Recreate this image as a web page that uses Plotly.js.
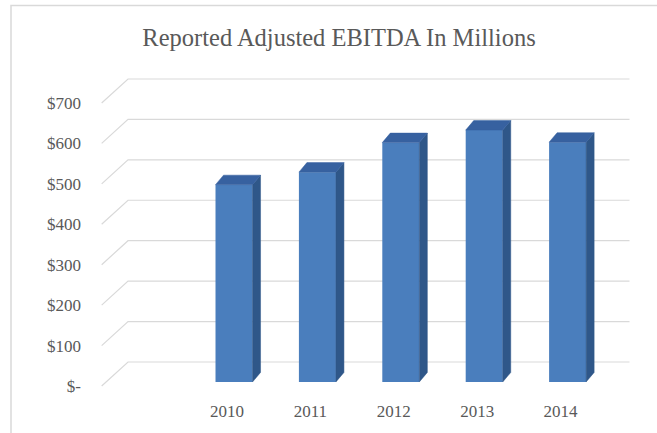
<!DOCTYPE html>
<html>
<head>
<meta charset="utf-8">
<script src="https://cdn.plot.ly/plotly-3.0.1.min.js"></script>
<style>
  html, body { margin: 0; padding: 0; background: #ffffff; }
  #chart { width: 657px; height: 433px; }
</style>
</head>
<body>
<div id="chart"></div>
<script>
// ---- data ----
const categories = ['2010', '2011', '2012', '2013', '2014'];
const ebitda = [488, 519, 592, 623, 593];
const tickValues = [0, 100, 200, 300, 400, 500, 600, 700];
const tickLabels = ['$-', '$100', '$200', '$300', '$400', '$500', '$600', '$700'];

// ---- 3D look (in axis units) ----
const xRange = [-1.607, 4.772];
const yRange = [-9.9, 781.6];
const wallDx = 0.336, wallDy = 59.4;   // front floor -> back wall offset
const barBase = 10;                    // bar front face starts slightly behind front edge
const barWidth = 0.444;
const depthDx = 0.096, depthDy = 23.5; // bar depth offset
const labelShift = -0.084;

const xPos = categories.map((c, i) => i);

// side faces and top faces built from the data
const sideX = [], sideY = [], topX = [], topY = [];
xPos.forEach((x, i) => {
  const top = barBase + ebitda[i];
  const r = x + barWidth / 2, l = x - barWidth / 2;
  sideX.push(r, r + depthDx, r + depthDx, r, r, null);
  sideY.push(barBase, barBase + depthDy, top + depthDy, top, barBase, null);
  topX.push(l, l + depthDx, r + depthDx, r, l, null);
  topY.push(top, top + depthDy, top + depthDy, top, top, null);
});

// back-wall gridlines with diagonal floor lines
const shapes = tickValues.map(v => ({
  type: 'path', xref: 'x', yref: 'y', layer: 'below',
  path: `M ${xRange[0] + 0.02},${v} L ${xRange[0] + wallDx},${v + wallDy} L ${xRange[1] - 0.03},${v + wallDy}`,
  line: { color: '#d9d9d9', width: 1.2 }
}));
// chart frame
shapes.push({
  type: 'rect', xref: 'paper', yref: 'paper',
  x0: -0.1673, y0: 1.2016, x1: 1.2, y1: -0.2,
  line: { color: '#d9d9d9', width: 1.5 }, layer: 'below'
});

const traces = [
  {
    type: 'bar', x: xPos, y: ebitda, base: barBase, width: barWidth,
    marker: { color: '#4a7ebd', line: { width: 0 } },
    hoverinfo: 'skip', showlegend: false
  },
  {
    type: 'scatter', mode: 'lines', x: sideX, y: sideY, fill: 'toself',
    fillcolor: '#2f5789', line: { width: 0.5, color: '#2f5789' },
    hoverinfo: 'skip', showlegend: false
  },
  {
    type: 'scatter', mode: 'lines', x: topX, y: topY, fill: 'toself',
    fillcolor: '#3761a0', line: { width: 0.5, color: '#3761a0' },
    hoverinfo: 'skip', showlegend: false
  }
];

const layout = {
  width: 657, height: 433,
  margin: { l: 100, r: 25, t: 70, b: 43 },
  paper_bgcolor: '#ffffff', plot_bgcolor: 'rgba(0,0,0,0)',
  font: { family: '"Liberation Serif", "Times New Roman", serif', color: '#595959' },
  title: {
    text: 'Reported Adjusted EBITDA In Millions',
    font: { family: '"Liberation Serif", "Times New Roman", serif', size: 24.5, color: '#595959' },
    x: 0.516, xanchor: 'center', xref: 'container',
    y: 1 - 37 / 433, yanchor: 'middle', yref: 'container'
  },
  xaxis: {
    range: xRange, showgrid: false, zeroline: false, showline: false,
    tickmode: 'array', tickvals: xPos.map(x => x + labelShift), ticktext: categories,
    ticks: '', ticklabelstandoff: 9,
    tickfont: { size: 17, color: '#595959' }, fixedrange: true
  },
  yaxis: {
    range: yRange, showgrid: false, zeroline: false, showline: false,
    tickmode: 'array', tickvals: tickValues, ticktext: tickLabels,
    ticks: '', ticklabelstandoff: 18,
    tickfont: { size: 17, color: '#595959' }, fixedrange: true
  },
  shapes: shapes,
  showlegend: false
};

Plotly.newPlot('chart', traces, layout, { displayModeBar: false, staticPlot: true });
</script>
</body>
</html>
